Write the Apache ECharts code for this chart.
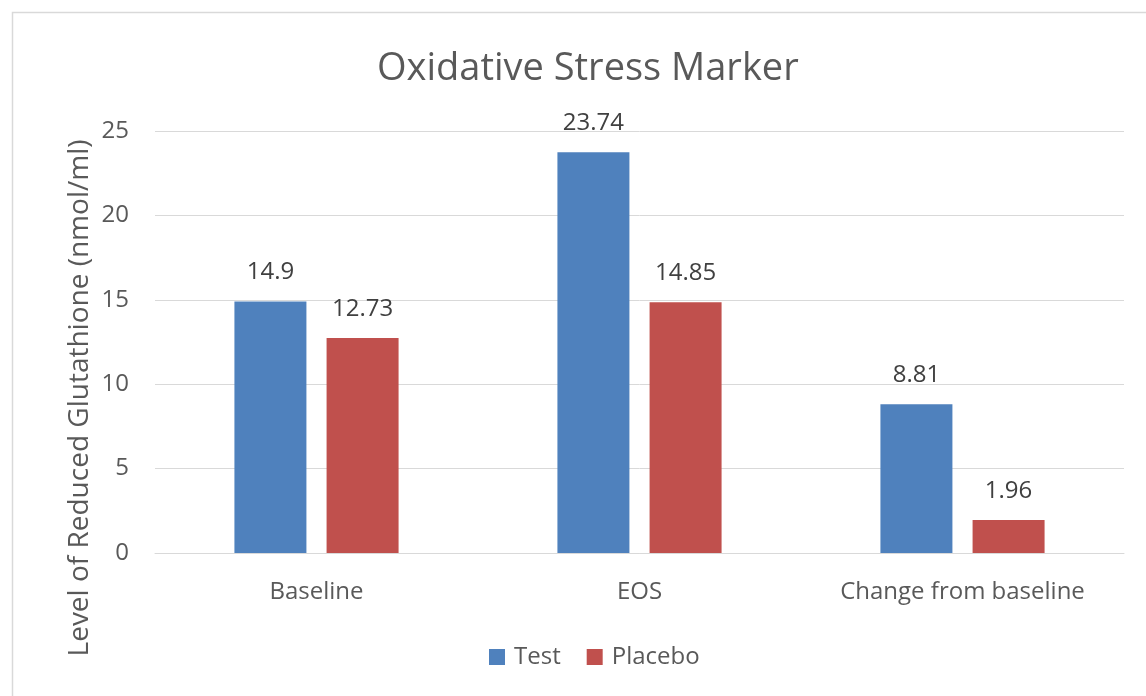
<!DOCTYPE html>
<html>
<head>
<meta charset="utf-8">
<script src="https://cdn.jsdelivr.net/npm/echarts@6/dist/echarts.min.js"></script>
<style>
  html, body { margin: 0; padding: 0; background: #ffffff; }
  #chart { width: 1146px; height: 696px; }
</style>
</head>
<body>
<div id="chart"></div>
<script>
const categories = ['Baseline', 'EOS', 'Change from baseline'];
const testValues = [14.9, 23.74, 8.81];
const placeboValues = [12.73, 14.85, 1.96];
const yTicks = [0, 5, 10, 15, 20, 25];

const FONT = '"Open Sans", "Noto Sans", sans-serif';
const labelStyle = { show: true, position: 'top', distance: 17, color: '#404040', fontSize: 24, fontFamily: FONT };

const chart = echarts.init(document.getElementById('chart'));
chart.setOption({
  animation: false,
  backgroundColor: '#ffffff',
  graphic: [
    {
      // chart-area frame
      type: 'rect',
      shape: { x: 12.5, y: 12.5, width: 1150, height: 700 },
      style: { fill: 'none', stroke: '#d9d9d9', lineWidth: 1.5 },
      silent: true
    },
    {
      // vertical axis title, centred on the whole chart area
      type: 'text',
      x: 80,
      y: 398,
      rotation: Math.PI / 2,
      style: {
        text: 'Level of Reduced Glutathione (nmol/ml)',
        fill: '#595959',
        font: '28px "Open Sans", "Noto Sans", sans-serif',
        align: 'center',
        verticalAlign: 'middle'
      },
      silent: true
    }
  ],
  title: {
    text: 'Oxidative Stress Marker',
    left: 372,
    top: 45,
    textStyle: { color: '#595959', fontSize: 38, fontWeight: 'normal', fontFamily: FONT }
  },
  legend: {
    top: 640,
    left: 484,
    itemWidth: 16,
    itemHeight: 16,
    itemGap: 26,
    icon: 'rect',
    textStyle: { color: '#595959', fontSize: 24, fontFamily: FONT, padding: [0, 0, 0, 4] },
    data: ['Test', 'Placebo']
  },
  grid: { left: 155, right: 22, top: 131, bottom: 143 },
  xAxis: {
    type: 'category',
    data: categories,
    axisLine: { lineStyle: { color: '#d9d9d9' } },
    axisTick: { show: false },
    axisLabel: { color: '#595959', fontSize: 24, fontFamily: FONT, margin: 27 }
  },
  yAxis: {
    type: 'value',
    min: yTicks[0],
    max: yTicks[yTicks.length - 1],
    interval: 5,
    axisLine: { show: false },
    axisTick: { show: false },
    axisLabel: { color: '#595959', fontSize: 24, fontFamily: FONT, margin: 26 },
    splitLine: { lineStyle: { color: '#d9d9d9', width: 1 } }
  },
  series: [
    {
      name: 'Test',
      type: 'bar',
      data: testValues,
      barWidth: 72,
      barGap: '28%',
      itemStyle: { color: '#4F81BD' },
      label: labelStyle
    },
    {
      name: 'Placebo',
      type: 'bar',
      data: placeboValues,
      barWidth: 72,
      itemStyle: { color: '#C0504D' },
      label: labelStyle
    }
  ]
});
</script>
</body>
</html>
